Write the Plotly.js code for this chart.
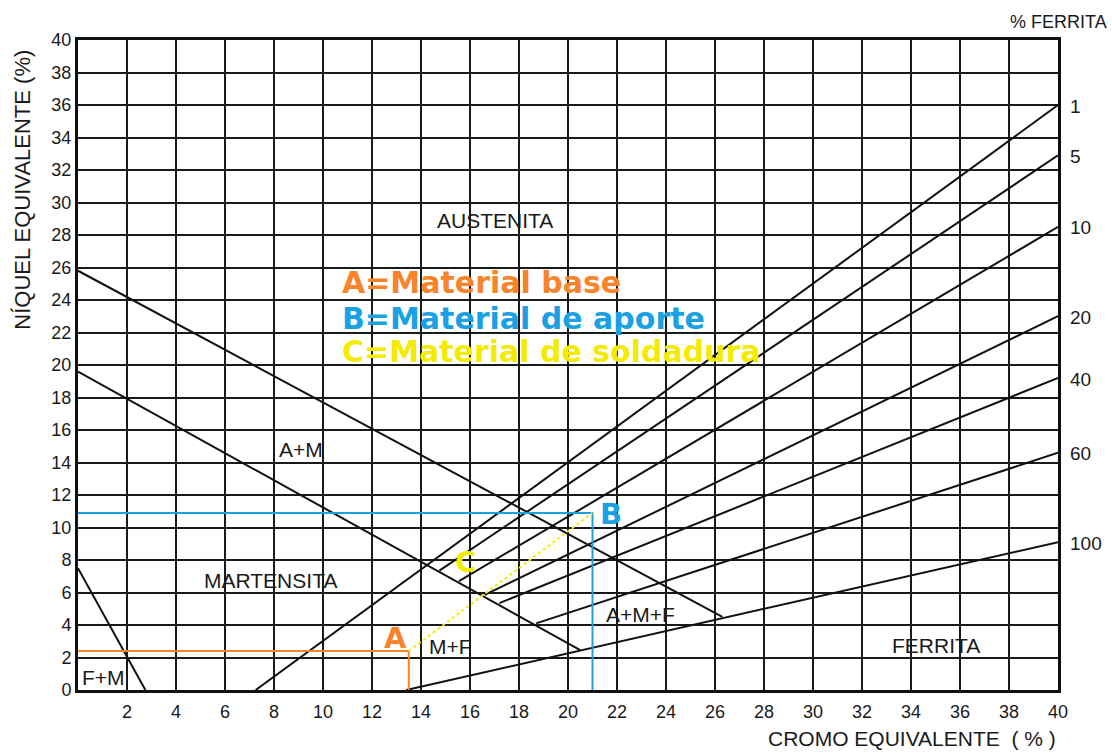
<!DOCTYPE html>
<html>
<head>
<meta charset="utf-8">
<script src="https://cdn.plot.ly/plotly-3.0.1.min.js"></script>
<style>html,body{margin:0;padding:0;background:#fff}#chart{width:1112px;height:753px}</style>
</head>
<body>
<div id="chart"></div>
<script>
// Boundary lines (Cr eq, Ni eq)
const austMartUpperX = [0, 26.3];
const austMartUpperY = [25.8, 4.5];
const austMartLowerX = [0, 20.5];
const austMartLowerY = [19.6, 2.45];
const ferMartX = [0, 2.75];
const ferMartY = [7.5, 0];

// Iso-ferrite lines
const ferriteLabels = ['1', '5', '10', '20', '40', '60', '100'];
const ferriteStartX = [7.25, 14.75, 15.55, 16.6, 17.2, 18.7, 13.4];
const ferriteStartY = [0, 7.35, 6.7, 5.85, 5.35, 4.1, 0];
const ferriteEndX = [40, 40, 40, 40, 40, 40, 40];
const ferriteEndY = [36.0, 32.9, 28.5, 23.0, 19.2, 14.6, 9.1];

// Materials
const pointA = [13.5, 2.4];
const pointB = [21.0, 10.9];

// Region labels
const regionNames = ['AUSTENITA', 'A+M', 'MARTENSITA', 'F+M', 'M+F', 'A+M+F', 'FERRITA'];
const regionX = [17.0, 9.1, 7.85, 1.05, 15.2, 22.95, 35.0];
const regionY = [28.9, 14.8, 6.75, 0.75, 2.7, 4.65, 2.75];

const legendTexts = ['A=Material base', 'B=Material de aporte', 'C=Material de soldadura'];
const legendY = [25.1, 22.85, 20.85];
const legendColors = ['#f7832a', '#1aa1e3', '#f4ec00'];

const xTicks = [];
for (let v = 2; v <= 40; v += 2) xTicks.push(v);
const yTicks = [];
for (let v = 0; v <= 40; v += 2) yTicks.push(v);

const txtFont = 'Liberation Sans, Arial, sans-serif';
const blk = {color: '#111', width: 2};
const traces = [];
traces.push({x: austMartUpperX, y: austMartUpperY, mode: 'lines', line: blk, hoverinfo: 'skip'});
traces.push({x: austMartLowerX, y: austMartLowerY, mode: 'lines', line: blk, hoverinfo: 'skip'});
traces.push({x: ferMartX, y: ferMartY, mode: 'lines', line: blk, hoverinfo: 'skip'});
for (let i = 0; i < ferriteLabels.length; i++) {
  traces.push({x: [ferriteStartX[i], ferriteEndX[i]], y: [ferriteStartY[i], ferriteEndY[i]],
    mode: 'lines', line: blk, hoverinfo: 'skip'});
}
traces.push({x: [0, pointA[0], pointA[0]], y: [pointA[1], pointA[1], 0], mode: 'lines',
  line: {color: '#f7832a', width: 2}, hoverinfo: 'skip'});
traces.push({x: [0, pointB[0], pointB[0]], y: [pointB[1], pointB[1], 0], mode: 'lines',
  line: {color: '#1aa1e3', width: 2}, hoverinfo: 'skip'});
traces.push({x: [pointA[0], pointB[0]], y: [pointA[1], pointB[1]], mode: 'lines',
  line: {color: '#f4ec00', width: 2, dash: 'dot'}, hoverinfo: 'skip'});

const ann = [];
for (let i = 0; i < regionNames.length; i++) {
  ann.push({x: regionX[i], y: regionY[i], xref: 'x', yref: 'y', text: regionNames[i], showarrow: false,
    font: {family: txtFont, size: 21, color: '#1a1a1a'}});
}
for (let i = 0; i < legendTexts.length; i++) {
  ann.push({x: 10.7, y: legendY[i], xref: 'x', yref: 'y', text: legendTexts[i], showarrow: false,
    xanchor: 'left', font: {family: 'DejaVu Sans, sans-serif', size: 30, color: legendColors[i], weight: 'bold'}});
}
for (let i = 0; i < ferriteLabels.length; i++) {
  ann.push({x: 40, y: ferriteEndY[i], xref: 'x', yref: 'y', text: ferriteLabels[i], showarrow: false,
    xanchor: 'left', xshift: 10, yshift: -1, font: {family: txtFont, size: 19, color: '#1a1a1a'}});
}
ann.push({x: 12.95, y: 3.2, xref: 'x', yref: 'y', text: 'A', showarrow: false,
  font: {family: 'DejaVu Sans, sans-serif', size: 29, color: '#f7832a', weight: 'bold'}});
ann.push({x: 21.75, y: 10.85, xref: 'x', yref: 'y', text: 'B', showarrow: false,
  font: {family: 'DejaVu Sans, sans-serif', size: 29, color: '#1aa1e3', weight: 'bold'}});
ann.push({x: 15.8, y: 7.85, xref: 'x', yref: 'y', text: 'C', showarrow: false,
  font: {family: 'DejaVu Sans, sans-serif', size: 29, color: '#f4ec00', weight: 'bold'}});
ann.push({x: 1.0, y: 1.028, xref: 'paper', yref: 'paper', text: '% FERRITA', showarrow: false,
  xanchor: 'center', yanchor: 'middle', font: {family: txtFont, size: 18, color: '#1a1a1a'}});
ann.push({x: 1.0, y: -0.074, xref: 'paper', yref: 'paper', text: 'CROMO EQUIVALENTE  ( % )', showarrow: false,
  xanchor: 'right', yanchor: 'middle', font: {family: txtFont, size: 21, color: '#1a1a1a'}});
ann.push({x: -0.057, y: 0.77, xref: 'paper', yref: 'paper', text: 'NÍQUEL EQUIVALENTE (%)', showarrow: false,
  xanchor: 'center', yanchor: 'middle', textangle: -90, font: {family: txtFont, size: 22, color: '#1a1a1a'}});

const layout = {
  width: 1112, height: 753,
  margin: {l: 78, r: 54, t: 40, b: 63},
  paper_bgcolor: '#fff', plot_bgcolor: '#fff',
  showlegend: false,
  xaxis: {range: [0, 40], tickvals: xTicks, ticktext: xTicks.map(String), showgrid: true,
    gridcolor: '#1a1a1a', gridwidth: 2, zeroline: false, showline: true, linecolor: '#111',
    linewidth: 3, mirror: true, ticks: '', fixedrange: true, ticklabelstandoff: 3,
    tickfont: {family: txtFont, size: 18, color: '#1a1a1a'}},
  yaxis: {range: [0, 40], tickvals: yTicks, ticktext: yTicks.map(String), showgrid: true,
    gridcolor: '#1a1a1a', gridwidth: 2, zeroline: false, showline: true, linecolor: '#111',
    linewidth: 3, mirror: true, ticks: '', fixedrange: true,
    tickfont: {family: txtFont, size: 18, color: '#1a1a1a'}},
  annotations: ann
};
Plotly.newPlot('chart', traces, layout, {displayModeBar: false, staticPlot: true});
</script>
</body>
</html>
